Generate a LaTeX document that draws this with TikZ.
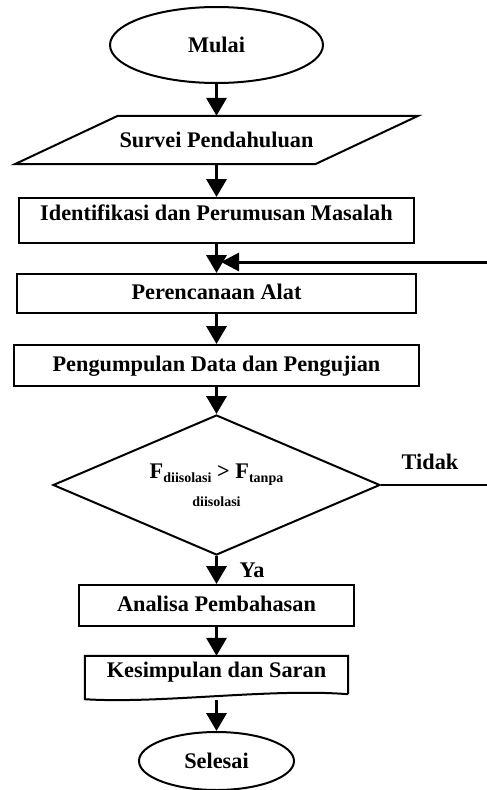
\documentclass[tikz,border=0pt]{standalone}
\usepackage{fontspec}
\setmainfont{Liberation Serif}
\usetikzlibrary{shapes.geometric,arrows.meta,calc}

\newcommand{\kecil}[1]{{\fontsize{14}{16}\selectfont #1}}

\begin{document}
\begin{tikzpicture}[x=1pt,y=-1pt,
  font=\fontsize{22.3}{26}\selectfont\bfseries,
  boxline/.style={draw,line width=2pt},
  proses/.style={boxline,rectangle,inner sep=0pt,text height=16pt,text depth=5pt},
  terminal/.style={boxline,ellipse,inner sep=0pt},
  panah/.style={line width=3.5pt,-{Triangle[length=18pt,width=20pt]}},
  garis/.style={line width=2pt}]
\useasboundingbox (0,0) rectangle (487,790);

%---------------------Mulai------------------%
\node[terminal,minimum width=213pt,minimum height=76pt] (mulai) at (216.5,45) {Mulai};

%---------------------Survei (parallelogram)------------------%
\node[inner sep=0pt,minimum width=300pt,minimum height=48pt] (survei) at (216.5,140) {Survei Pendahuluan};
\draw[garis] ([xshift=51.5pt]survei.north west) -- ([xshift=51.5pt]survei.north east)
  -- ([xshift=-51.5pt]survei.south east) -- ([xshift=-51.5pt]survei.south west) -- cycle;

%---------------------Proses------------------%
\node[proses,minimum width=395pt,minimum height=45pt,text depth=16pt] (identifikasi) at (216.5,220.5) {Identifikasi dan Perumusan Masalah};
\node[proses,minimum width=399pt,minimum height=39pt] (perencanaan) at (216.5,293.5) {Perencanaan Alat};
\node[proses,minimum width=405pt,minimum height=41pt] (pengumpulan) at (216.5,365.5) {Pengumpulan Data dan Pengujian};

%---------------------Keputusan------------------%
\node[boxline,diamond,aspect=2.34,inner sep=0pt,minimum width=327pt,minimum height=140pt,align=center] (keputusan) at (216.5,485)
  {F\raisebox{-4pt}{\kecil{diisolasi}} > F\raisebox{-4pt}{\kecil{tanpa}}\\[2pt]\kecil{diisolasi}};
\node (labeltidak) at (430,462) {Tidak};
\node (labelya) at (252,570) {Ya};

%---------------------Analisa & Kesimpulan------------------%
\node[proses,minimum width=275pt,minimum height=41pt] (analisa) at (216.5,605.5) {Analisa Pembahasan};
\node[inner sep=0pt,minimum width=263pt,minimum height=38pt,text height=15pt,text depth=11pt] (kesimpulan) at (216.5,675) {Kesimpulan dan Saran};
\draw[garis] (kesimpulan.south east) -- (kesimpulan.north east) -- (kesimpulan.north west)
  -- ($(kesimpulan.south west)+(0,5)$) .. controls (160,704) and (270,688) .. (kesimpulan.south east);

%---------------------Selesai------------------%
\node[terminal,minimum width=155pt,minimum height=58pt] (selesai) at (216.5,761) {Selesai};

%---------------------Panah------------------%
\coordinate (tidak) at (487,485);
\coordinate (balik) at (487,262);
\coordinate (gabung) at (221,262);
\draw[panah] (mulai) -- (survei);
\draw[panah] (survei) -- (identifikasi);
\draw[panah] (identifikasi) -- (perencanaan);
\draw[panah] (perencanaan) -- (pengumpulan);
\draw[panah] (pengumpulan) -- (keputusan);
\draw[panah] (keputusan) -- (analisa);
\draw[panah] (analisa) -- (kesimpulan);
\draw[panah] ($(kesimpulan.south)+(0,6)$) -- (selesai);
\draw[garis] (keputusan.east) -- (tidak);
\draw[line width=3pt,-{Triangle[length=18pt,width=18pt]}] (balik) -- (gabung);
\end{tikzpicture}
\end{document}
